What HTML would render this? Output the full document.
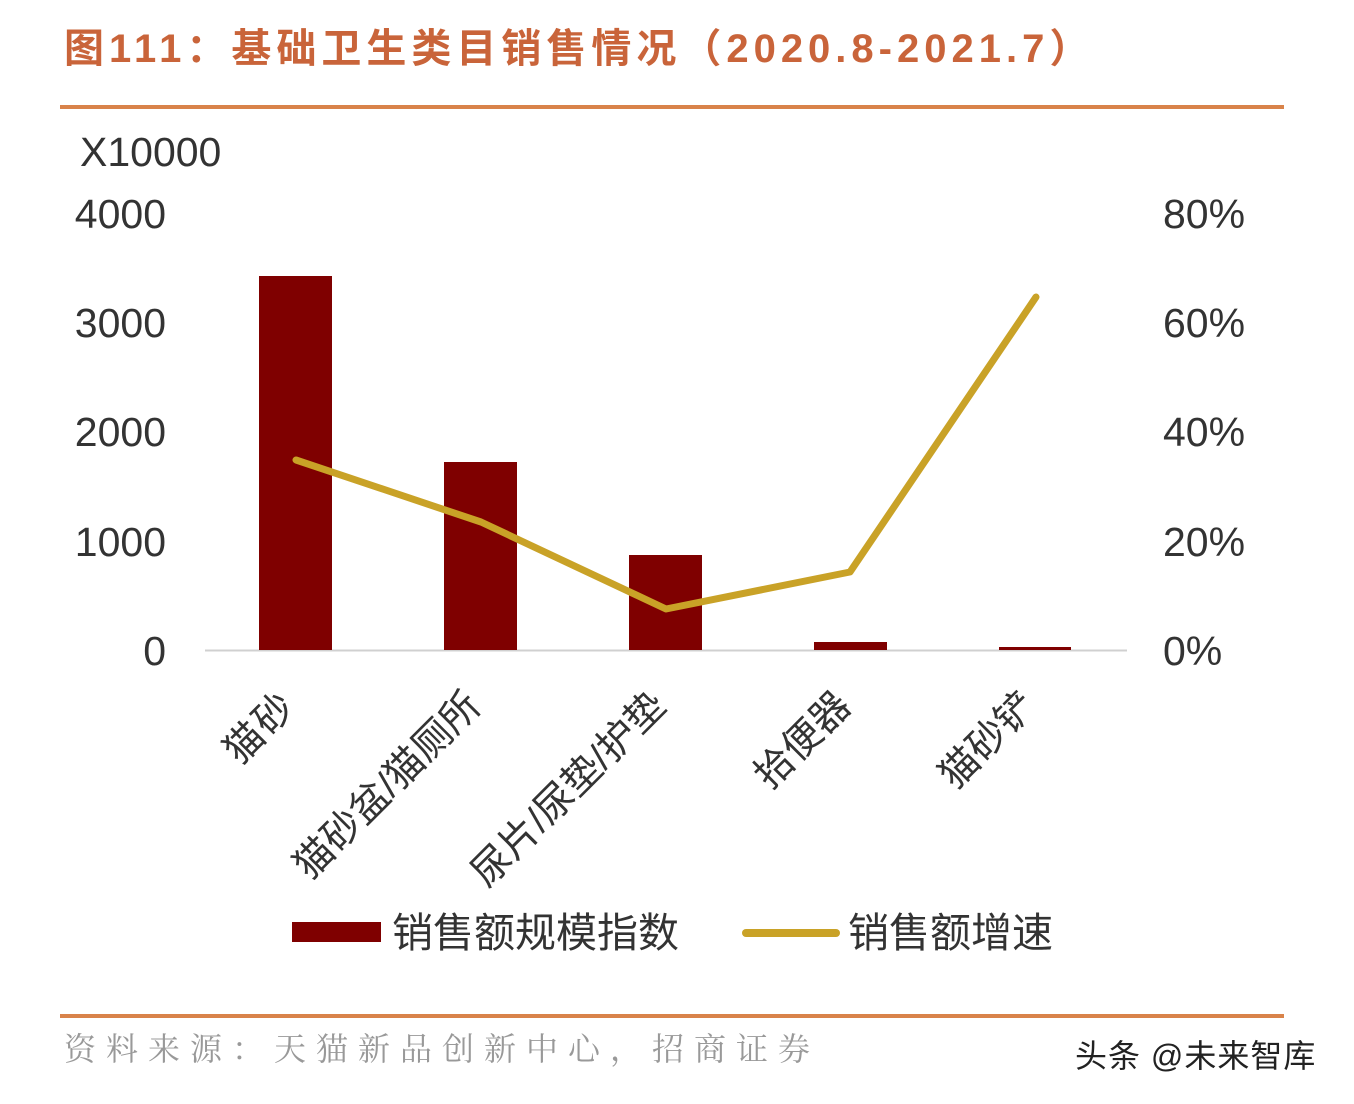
<!DOCTYPE html>
<html><head><meta charset="utf-8"><style>
html,body{margin:0;padding:0;background:#fff;}
svg{display:block;}
</style></head><body>
<svg width="1354" height="1104" viewBox="0 0 1354 1104" xmlns="http://www.w3.org/2000/svg">
<rect width="1354" height="1104" fill="#fff"/>
<text x="64" y="62" font-family="'Liberation Sans','Noto Sans CJK SC',sans-serif" font-size="40" font-weight="bold" fill="#c9643a" letter-spacing="5">图111：基础卫生类目销售情况（2020.8-2021.7）</text>
<rect x="60" y="105" width="1224" height="4" fill="#d9834a"/>
<g font-family="'Liberation Sans','Noto Sans CJK SC',sans-serif" font-size="41" fill="#333">
<text x="80" y="166">X10000</text>
<text x="166" y="228" text-anchor="end">4000</text>
<text x="166" y="337" text-anchor="end">3000</text>
<text x="166" y="446" text-anchor="end">2000</text>
<text x="166" y="556" text-anchor="end">1000</text>
<text x="166" y="665" text-anchor="end">0</text>
<text x="1163" y="228">80%</text>
<text x="1163" y="337">60%</text>
<text x="1163" y="446">40%</text>
<text x="1163" y="556">20%</text>
<text x="1163" y="665">0%</text>
</g>
<line x1="205" y1="650.5" x2="1127" y2="650.5" stroke="#d0d0d0" stroke-width="2"/>
<g fill="#7f0000">
<rect x="259" y="276" width="73" height="374"/>
<rect x="444" y="462" width="73" height="188"/>
<rect x="629" y="555" width="73" height="95"/>
<rect x="814" y="642" width="73" height="8"/>
<rect x="999" y="647" width="72" height="3"/>
</g>
<polyline points="296,460 481,522 666,609 850,572 1036,297" fill="none" stroke="#c9a227" stroke-width="7" stroke-linejoin="round" stroke-linecap="round"/>
<g font-family="'Liberation Sans','Noto Sans CJK SC',sans-serif" font-size="39" fill="#333" text-anchor="end">
<text transform="translate(298,708) rotate(-45)" letter-spacing="2">猫砂</text>
<text transform="translate(483,708) rotate(-45)">猫砂盆/猫厕所</text>
<text transform="translate(668,708) rotate(-45)">尿片/尿垫/护垫</text>
<text transform="translate(853,708) rotate(-45)">拾便器</text>
<text transform="translate(1038,708) rotate(-45)">猫砂铲</text>
</g>
<rect x="292" y="922" width="89" height="20" fill="#7f0000"/>
<line x1="746" y1="933" x2="836" y2="933" stroke="#c9a227" stroke-width="8" stroke-linecap="round"/>
<g font-family="'Liberation Sans','Noto Sans CJK SC',sans-serif" font-size="41" fill="#333">
<text x="392" y="947">销售额规模指数</text>
<text x="848" y="947">销售额增速</text>
</g>
<rect x="60" y="1014" width="1224" height="4" fill="#d9834a"/>
<text x="64" y="1060" font-family="'Noto Serif CJK SC',serif" font-size="32" fill="#999" letter-spacing="10">资料来源：天猫新品创新中心，招商证券</text>
<text x="1075" y="1067" font-family="'Liberation Sans','Noto Sans CJK SC',sans-serif" font-size="32" fill="#222" letter-spacing="1">头条 @未来智库</text>
</svg>
</body></html>
